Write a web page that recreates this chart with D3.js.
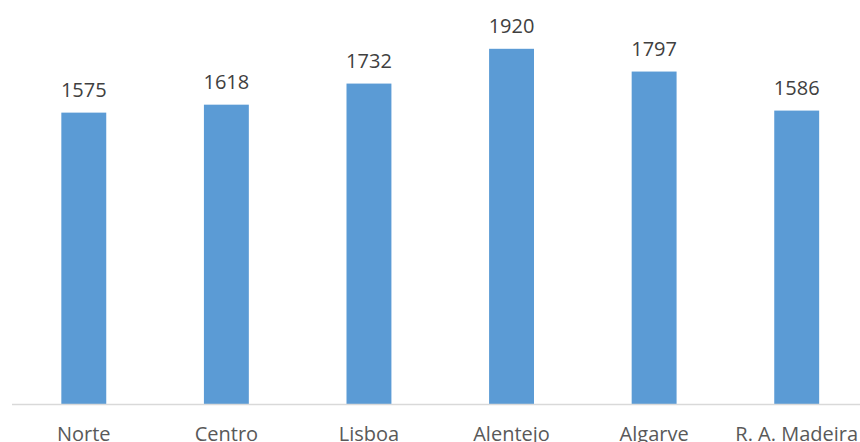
<!DOCTYPE html>
<html><head><meta charset="utf-8">
<script src="https://cdn.jsdelivr.net/npm/d3@7"></script>
<style>html,body{margin:0;padding:0;background:#fff;overflow:hidden}</style>
</head><body>
<svg id="c" width="860" height="442"></svg>
<script>
const categories = ["Norte","Centro","Lisboa","Alentejo","Algarve","R. A. Madeira"];
const values = [1575,1618,1732,1920,1797,1586];

const svg = d3.select("#c");
const baseY = 404;
const x = d3.scaleBand().domain(categories).range([12.5, 868]).paddingInner(0.685).paddingOuter(0.3425);
const y = d3.scaleLinear().domain([0, 2000]).range([baseY, 34]);
const font = "'Open Sans', 'Liberation Sans', sans-serif";

svg.selectAll("rect.bar").data(values).enter().append("rect")
  .attr("class","bar")
  .attr("x",(d,i)=>x(categories[i]))
  .attr("width",x.bandwidth())
  .attr("y",d=>y(d))
  .attr("height",d=>baseY-y(d))
  .attr("fill","#5B9BD5");

svg.append("line").attr("x1",12).attr("x2",860).attr("y1",baseY+0.5).attr("y2",baseY+0.5)
  .attr("stroke","#D9D9D9").attr("stroke-width",1.5);

svg.selectAll("text.val").data(values).enter().append("text")
  .attr("class","val")
  .attr("x",(d,i)=>x(categories[i])+x.bandwidth()/2)
  .attr("y",d=>y(d)-16)
  .attr("text-anchor","middle")
  .attr("font-family",font).attr("font-size",20).attr("fill","#404040")
  .text(d=>d);

svg.selectAll("text.cat").data(categories).enter().append("text")
  .attr("class","cat")
  .attr("x",d=>x(d)+x.bandwidth()/2)
  .attr("y",441)
  .attr("text-anchor","middle")
  .attr("font-family",font).attr("font-size",20).attr("fill","#595959")
  .text(d=>d);
</script>
</body></html>
